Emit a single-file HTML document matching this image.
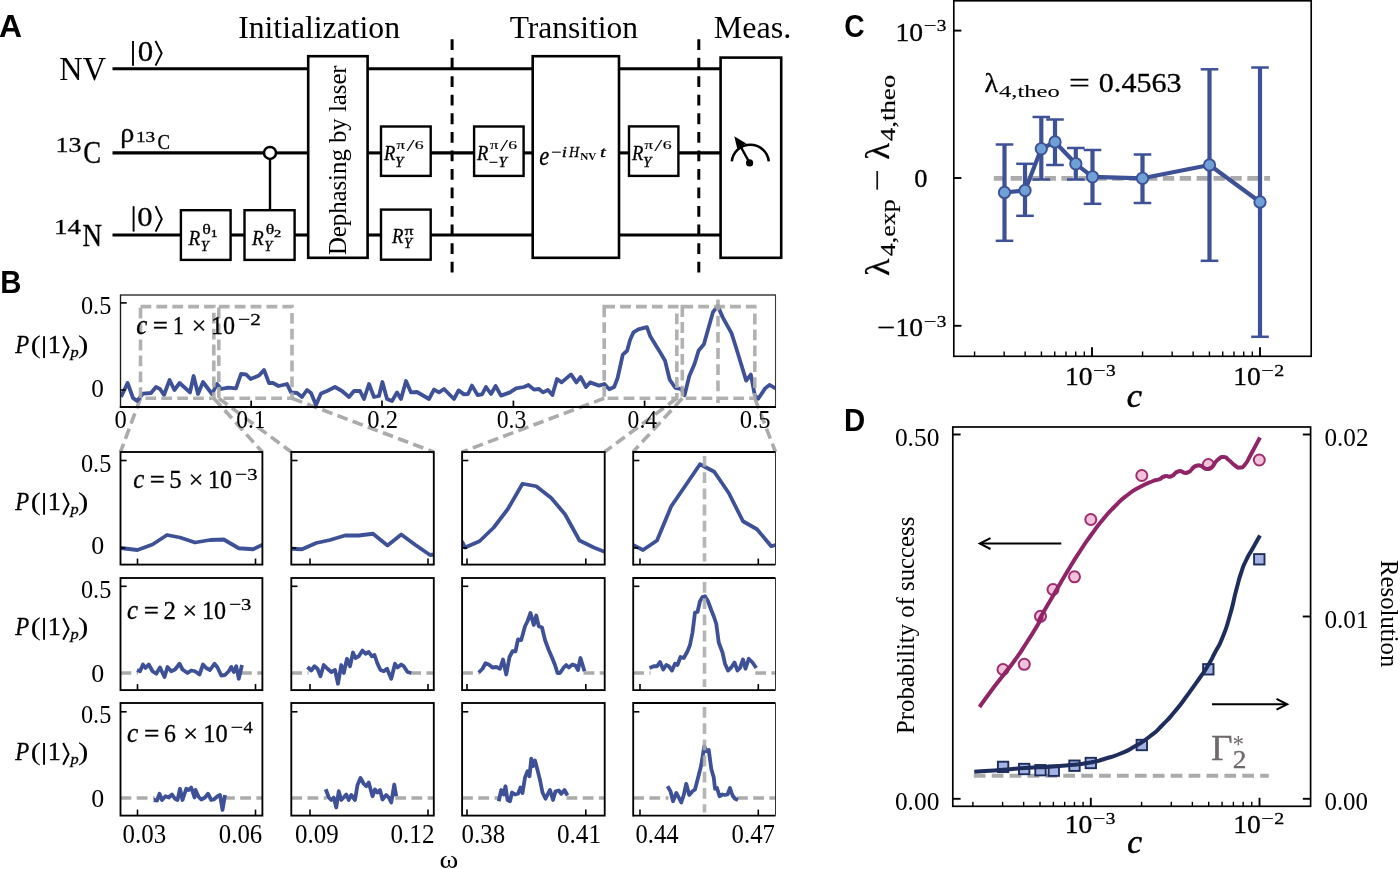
<!DOCTYPE html>
<html><head><meta charset="utf-8"><title>Figure</title>
<style>
html,body{margin:0;padding:0;background:#fff;}
body{width:1400px;height:869px;overflow:hidden;font-family:"Liberation Serif",serif;}
svg{display:block;will-change:transform;}
</style></head><body>
<svg width="1400" height="869" viewBox="0 0 1400 869">
<rect x="0" y="0" width="1400" height="869" fill="#fff"/>
<text font-family='"Liberation Sans", sans-serif' font-size="31" font-weight="bold" textLength="23.04" lengthAdjust="spacingAndGlyphs" x="-0.99" y="36.9">A</text>
<text font-family='"Liberation Sans", sans-serif' font-size="31" font-weight="bold" textLength="21.2" lengthAdjust="spacingAndGlyphs" x="0.14" y="292.6">B</text>
<text font-family='"Liberation Sans", sans-serif' font-size="31" font-weight="bold" textLength="20.32" lengthAdjust="spacingAndGlyphs" x="844.25" y="37.4">C</text>
<text font-family='"Liberation Sans", sans-serif' font-size="31" font-weight="bold" textLength="21.2" lengthAdjust="spacingAndGlyphs" x="844.04" y="430.6">D</text>
<text font-family='"Liberation Serif", serif' font-size="32.2" textLength="161.82" lengthAdjust="spacingAndGlyphs" x="238.16" y="38.4">Initialization</text>
<text font-family='"Liberation Serif", serif' font-size="32.2" textLength="128.44" lengthAdjust="spacingAndGlyphs" x="509.64" y="38.4">Transition</text>
<text font-family='"Liberation Serif", serif' font-size="32.2" textLength="77.64" lengthAdjust="spacingAndGlyphs" x="713.67" y="38.4">Meas.</text>
<text font-family='"Liberation Serif", serif' font-size="33" textLength="46.59" lengthAdjust="spacingAndGlyphs" x="59.37" y="79.9">NV</text>
<text font-family='"Liberation Serif", serif' font-size="22" textLength="26.0" lengthAdjust="spacingAndGlyphs" stroke="#000" stroke-width="0.3" x="55.61" y="152">13</text>
<text font-family='"Liberation Serif", serif' font-size="31.6" textLength="17.88" lengthAdjust="spacingAndGlyphs" stroke="#000" stroke-width="0.3" x="83.3" y="163.3">C</text>
<text font-family='"Liberation Serif", serif' font-size="22" textLength="26.88" lengthAdjust="spacingAndGlyphs" stroke="#000" stroke-width="0.3" x="54.14" y="233.9">14</text>
<text font-family='"Liberation Serif", serif' font-size="32" textLength="19.5" lengthAdjust="spacingAndGlyphs" stroke="#000" stroke-width="0.3" x="82.62" y="245.5">N</text>
<line x1="112.5" y1="68.8" x2="308" y2="68.8" stroke="#000" stroke-width="3.1"/>
<line x1="368" y1="68.8" x2="533" y2="68.8" stroke="#000" stroke-width="3.1"/>
<line x1="619" y1="68.8" x2="720" y2="68.8" stroke="#000" stroke-width="3.1"/>
<line x1="112.5" y1="152.9" x2="264" y2="152.9" stroke="#000" stroke-width="3.1"/>
<line x1="276" y1="152.9" x2="308" y2="152.9" stroke="#000" stroke-width="3.1"/>
<line x1="368" y1="152.9" x2="381" y2="152.9" stroke="#000" stroke-width="3.1"/>
<line x1="430.5" y1="152.9" x2="474" y2="152.9" stroke="#000" stroke-width="3.1"/>
<line x1="523.5" y1="152.9" x2="533" y2="152.9" stroke="#000" stroke-width="3.1"/>
<line x1="619" y1="152.9" x2="629" y2="152.9" stroke="#000" stroke-width="3.1"/>
<line x1="678.5" y1="152.9" x2="720" y2="152.9" stroke="#000" stroke-width="3.1"/>
<line x1="112.5" y1="235.0" x2="181" y2="235.0" stroke="#000" stroke-width="3.1"/>
<line x1="230.5" y1="235.0" x2="244.5" y2="235.0" stroke="#000" stroke-width="3.1"/>
<line x1="294.5" y1="235.0" x2="308" y2="235.0" stroke="#000" stroke-width="3.1"/>
<line x1="368" y1="235.0" x2="381" y2="235.0" stroke="#000" stroke-width="3.1"/>
<line x1="430.5" y1="235.0" x2="533" y2="235.0" stroke="#000" stroke-width="3.1"/>
<line x1="619" y1="235.0" x2="720" y2="235.0" stroke="#000" stroke-width="3.1"/>
<circle cx="270" cy="152.9" r="6.0" fill="#fff" stroke="#000" stroke-width="2.5"/>
<line x1="270" y1="159.4" x2="270" y2="210" stroke="#000" stroke-width="2.4"/>
<rect x="180.9" y="210.2" width="49.7" height="49.7" stroke="#000" stroke-width="2.4" fill="none"/>
<rect x="244.5" y="210.2" width="50.1" height="49.7" stroke="#000" stroke-width="2.4" fill="none"/>
<rect x="308.2" y="56.2" width="59.4" height="201.6" stroke="#000" stroke-width="2.6" fill="none"/>
<rect x="381" y="126.5" width="49.7" height="49.4" stroke="#000" stroke-width="2.4" fill="none"/>
<rect x="381" y="209.6" width="49.7" height="50.1" stroke="#000" stroke-width="2.4" fill="none"/>
<rect x="474.1" y="126.5" width="49.5" height="49.4" stroke="#000" stroke-width="2.4" fill="none"/>
<rect x="532.7" y="56.2" width="86.3" height="201.6" stroke="#000" stroke-width="2.6" fill="none"/>
<rect x="629" y="126.4" width="49.4" height="49.5" stroke="#000" stroke-width="2.4" fill="none"/>
<rect x="720.6" y="57.6" width="60.6" height="200.2" stroke="#000" stroke-width="2.6" fill="none"/>
<line x1="452.1" y1="39.2" x2="452.1" y2="272.6" stroke="#000" stroke-width="3.0" stroke-dasharray="10.8 7.74"/>
<line x1="698.8" y1="39.2" x2="698.8" y2="272.6" stroke="#000" stroke-width="3.0" stroke-dasharray="10.8 7.74"/>
<text font-family='"Liberation Serif", serif' font-size="25.8" textLength="189.73" lengthAdjust="spacingAndGlyphs" transform="translate(345.9,255.11) rotate(-90)">Dephasing by laser</text>
<line x1="133" y1="40.9" x2="133" y2="65.7" stroke="#000" stroke-width="1.9"/>
<text font-family='"Liberation Serif", serif' font-size="28.5" textLength="15.45" lengthAdjust="spacingAndGlyphs" stroke="#000" stroke-width="0.3" x="137.82" y="60.9">0</text>
<polyline points="155.5,40.9 161.7,53.3 155.5,65.7" fill="none" stroke="#000" stroke-width="1.9" stroke-linejoin="miter" stroke-linecap="butt"/>
<line x1="133.6" y1="206.2" x2="133.6" y2="231.6" stroke="#000" stroke-width="1.9"/>
<text font-family='"Liberation Serif", serif' font-size="28" textLength="15.34" lengthAdjust="spacingAndGlyphs" stroke="#000" stroke-width="0.3" x="137.23" y="225.9">0</text>
<polyline points="155.6,206.2 161.8,218.9 155.6,231.6" fill="none" stroke="#000" stroke-width="1.9" stroke-linejoin="miter" stroke-linecap="butt"/>
<text font-family='"Liberation Serif", serif' font-size="28" textLength="14.06" lengthAdjust="spacingAndGlyphs" stroke="#000" stroke-width="0.3" x="120.18" y="141.8">ρ</text>
<text font-family='"Liberation Serif", serif' font-size="14.4" textLength="19.24" lengthAdjust="spacingAndGlyphs" stroke="#000" stroke-width="0.3" x="136.01" y="141.8">13</text>
<text font-family='"Liberation Serif", serif' font-size="20.5" textLength="12.5" lengthAdjust="spacingAndGlyphs" stroke="#000" stroke-width="0.3" x="157.43" y="149">C</text>
<text font-family='"Liberation Serif", serif' font-size="21.2" font-style="italic" textLength="11.72" lengthAdjust="spacingAndGlyphs" stroke="#000" stroke-width="0.3" x="188.6" y="244.5">R</text>
<text font-family='"Liberation Serif", serif' font-size="14" font-style="italic" textLength="8.04" lengthAdjust="spacingAndGlyphs" stroke="#000" stroke-width="0.3" x="200.67" y="250.5">Y</text>
<text font-family='"Liberation Serif", serif' font-size="15.4" textLength="8.61" lengthAdjust="spacingAndGlyphs" stroke="#000" stroke-width="0.3" x="202.16" y="233.5">θ</text>
<text font-family='"Liberation Serif", serif' font-size="10.6" textLength="6.82" lengthAdjust="spacingAndGlyphs" stroke="#000" stroke-width="0.3" x="210.8" y="236.5">1</text>
<text font-family='"Liberation Serif", serif' font-size="21.2" font-style="italic" textLength="11.72" lengthAdjust="spacingAndGlyphs" stroke="#000" stroke-width="0.3" x="252.1" y="244.5">R</text>
<text font-family='"Liberation Serif", serif' font-size="14" font-style="italic" textLength="8.04" lengthAdjust="spacingAndGlyphs" stroke="#000" stroke-width="0.3" x="264.17" y="250.5">Y</text>
<text font-family='"Liberation Serif", serif' font-size="15.4" textLength="8.61" lengthAdjust="spacingAndGlyphs" stroke="#000" stroke-width="0.3" x="265.66" y="233.5">θ</text>
<text font-family='"Liberation Serif", serif' font-size="10.6" textLength="7.23" lengthAdjust="spacingAndGlyphs" stroke="#000" stroke-width="0.3" x="274.06" y="236.5">2</text>
<text font-family='"Liberation Serif", serif' font-size="21" font-style="italic" textLength="11.31" lengthAdjust="spacingAndGlyphs" stroke="#000" stroke-width="0.3" x="384.0" y="160">R</text>
<text font-family='"Liberation Serif", serif' font-size="14" font-style="italic" textLength="8.42" lengthAdjust="spacingAndGlyphs" stroke="#000" stroke-width="0.3" x="395.04" y="167.1">Y</text>
<text font-family='"Liberation Serif", serif' font-size="12.2" textLength="8.48" lengthAdjust="spacingAndGlyphs" stroke="#000" stroke-width="0.15" x="396.57" y="149.2">π</text>
<text font-family='"Liberation Serif", serif' font-size="17" textLength="8.2" lengthAdjust="spacingAndGlyphs" x="406.4" y="151.3">/</text>
<text font-family='"Liberation Serif", serif' font-size="11.8" textLength="8.89" lengthAdjust="spacingAndGlyphs" stroke="#000" stroke-width="0.15" x="414.84" y="149.2">6</text>
<text font-family='"Liberation Serif", serif' font-size="21" font-style="italic" textLength="11.31" lengthAdjust="spacingAndGlyphs" stroke="#000" stroke-width="0.3" x="477.1" y="160">R</text>
<text font-family='"Liberation Serif", serif' font-size="14" textLength="9.21" lengthAdjust="spacingAndGlyphs" stroke="#000" stroke-width="0.3" x="489.09" y="167.1">−</text>
<text font-family='"Liberation Serif", serif' font-size="14" font-style="italic" textLength="8.42" lengthAdjust="spacingAndGlyphs" stroke="#000" stroke-width="0.3" x="498.44" y="167.1">Y</text>
<text font-family='"Liberation Serif", serif' font-size="12.2" textLength="8.48" lengthAdjust="spacingAndGlyphs" stroke="#000" stroke-width="0.15" x="490.07" y="149.2">π</text>
<text font-family='"Liberation Serif", serif' font-size="17" textLength="8.2" lengthAdjust="spacingAndGlyphs" x="499.9" y="151.3">/</text>
<text font-family='"Liberation Serif", serif' font-size="11.8" textLength="8.89" lengthAdjust="spacingAndGlyphs" stroke="#000" stroke-width="0.15" x="508.34" y="149.2">6</text>
<text font-family='"Liberation Serif", serif' font-size="21" font-style="italic" textLength="11.31" lengthAdjust="spacingAndGlyphs" stroke="#000" stroke-width="0.3" x="631.9" y="160">R</text>
<text font-family='"Liberation Serif", serif' font-size="14" font-style="italic" textLength="8.42" lengthAdjust="spacingAndGlyphs" stroke="#000" stroke-width="0.3" x="642.94" y="167.1">Y</text>
<text font-family='"Liberation Serif", serif' font-size="12.2" textLength="8.48" lengthAdjust="spacingAndGlyphs" stroke="#000" stroke-width="0.15" x="644.47" y="149.2">π</text>
<text font-family='"Liberation Serif", serif' font-size="17" textLength="8.2" lengthAdjust="spacingAndGlyphs" x="654.3" y="151.3">/</text>
<text font-family='"Liberation Serif", serif' font-size="11.8" textLength="8.89" lengthAdjust="spacingAndGlyphs" stroke="#000" stroke-width="0.15" x="662.74" y="149.2">6</text>
<text font-family='"Liberation Serif", serif' font-size="21" font-style="italic" textLength="11.41" lengthAdjust="spacingAndGlyphs" stroke="#000" stroke-width="0.3" x="391.9" y="242.5">R</text>
<text font-family='"Liberation Serif", serif' font-size="14" font-style="italic" textLength="8.04" lengthAdjust="spacingAndGlyphs" stroke="#000" stroke-width="0.3" x="403.97" y="247.9">Y</text>
<text font-family='"Liberation Serif", serif' font-size="12.5" textLength="9.01" lengthAdjust="spacingAndGlyphs" stroke="#000" stroke-width="0.3" x="404.56" y="234.9">π</text>
<text font-family='"Liberation Serif", serif' font-size="26.5" font-style="italic" textLength="10.0" lengthAdjust="spacingAndGlyphs" stroke="#000" stroke-width="0.3" x="539.31" y="165.2">e</text>
<text font-family='"Liberation Serif", serif' font-size="15" textLength="10.3" lengthAdjust="spacingAndGlyphs" stroke="#000" stroke-width="0.3" x="550.99" y="157">−</text>
<text font-family='"Liberation Serif", serif' font-size="14.5" font-style="italic" textLength="5.21" lengthAdjust="spacingAndGlyphs" stroke="#000" stroke-width="0.3" x="561.76" y="157">i</text>
<text font-family='"Liberation Serif", serif' font-size="14" font-style="italic" textLength="10.12" lengthAdjust="spacingAndGlyphs" stroke="#000" stroke-width="0.3" x="569.05" y="157">H</text>
<text font-family='"Liberation Serif", serif' font-size="9.6" font-weight="bold" textLength="16.14" lengthAdjust="spacingAndGlyphs" x="580.19" y="160.4">NV</text>
<text font-family='"Liberation Serif", serif' font-size="14.5" font-style="italic" textLength="5.8" lengthAdjust="spacingAndGlyphs" stroke="#000" stroke-width="0.3" x="600.08" y="157">t</text>
<path d="M 731.8 161.4 A 18.6 18.6 0 0 1 768.8 161.4" fill="none" stroke="#000" stroke-width="2.5"/>
<circle cx="749.6" cy="162.9" r="3.6" fill="#000"/>
<line x1="749.6" y1="162.9" x2="740.5" y2="146.2" stroke="#000" stroke-width="2.4"/>
<polygon points="734.3,136.2 746.2,143.4 737.2,148.6" fill="#000"/>
<line x1="140.5" y1="398.3" x2="120.5" y2="452" stroke="#ababab" stroke-width="3.6" stroke-dasharray="10.8 5.4"/>
<line x1="213.8" y1="398.3" x2="262.4" y2="452" stroke="#ababab" stroke-width="3.6" stroke-dasharray="10.8 5.4"/>
<line x1="218.8" y1="398.3" x2="291.3" y2="452" stroke="#ababab" stroke-width="3.6" stroke-dasharray="10.8 5.4"/>
<line x1="292" y1="398.3" x2="433.8" y2="452" stroke="#ababab" stroke-width="3.6" stroke-dasharray="10.8 5.4"/>
<line x1="604.2" y1="398.3" x2="462" y2="452" stroke="#ababab" stroke-width="3.6" stroke-dasharray="10.8 5.4"/>
<line x1="676.8" y1="398.3" x2="604.5" y2="452" stroke="#ababab" stroke-width="3.6" stroke-dasharray="10.8 5.4"/>
<line x1="682.3" y1="398.3" x2="633" y2="452" stroke="#ababab" stroke-width="3.6" stroke-dasharray="10.8 5.4"/>
<line x1="754.8" y1="398.3" x2="775.5" y2="452" stroke="#ababab" stroke-width="3.6" stroke-dasharray="10.8 5.4"/>
<clipPath id="cpT"><rect x="120.5" y="294.7" width="655.0" height="112.10000000000002"/></clipPath>
<g clip-path="url(#cpT)">
<polyline points="121.0,397.0 127.6,383.0 133.0,398.0 137.0,401.0 143.0,393.6 151.0,393.0 156.0,387.0 160.0,389.0 164.0,395.0 169.6,380.0 174.4,390.0 179.6,383.0 190.0,392.4 193.6,376.0 198.0,394.0 203.0,382.0 212.0,394.0 217.0,384.0 221.0,389.0 228.0,387.6 236.0,388.4 241.0,374.0 246.0,374.4 250.6,379.0 259.0,375.6 264.0,370.0 269.0,383.0 273.0,383.0 278.6,386.0 287.0,384.0 291.0,392.4 297.0,393.0 302.0,397.0 307.0,390.0 311.0,393.0 316.0,405.0 321.0,393.6 327.0,391.0 335.0,387.0 342.0,391.0 349.0,397.0 354.0,391.0 360.0,391.0 364.0,399.0 369.0,384.0 374.0,397.0 379.0,396.0 382.4,382.0 387.0,399.0 392.0,401.0 397.0,392.4 401.0,399.0 406.0,381.0 411.0,392.4 417.0,392.0 429.0,399.0 434.0,389.6 439.0,392.4 444.0,389.0 454.0,399.0 458.6,390.4 464.0,394.4 468.0,394.0 472.0,385.6 477.6,395.0 482.0,394.4 486.0,387.0 491.0,394.0 495.6,386.0 501.0,395.6 510.0,392.4 516.0,388.4 524.0,387.0 528.4,385.0 534.0,389.6 539.0,389.0 543.0,392.4 548.0,390.0 552.4,395.0 557.0,379.0 561.6,382.4 571.0,374.4 576.4,382.4 580.6,377.0 586.0,387.0 590.0,382.4 599.0,385.6 604.4,384.0 609.33,389.22 614.16,386.98 617.61,378.0 622.79,354.71 627.1,350.74 630.03,340.04 633.48,332.28 638.32,329.34 646.94,327.1 650.39,336.59 659.02,350.39 665.06,360.75 669.72,379.73 675.41,388.01 681.45,389.22 684.56,395.26 689.22,376.28 694.4,364.2 698.71,350.39 703.89,344.35 712.86,312.43 717.69,305.88 722.87,317.61 731.5,333.14 736.67,349.53 746.16,380.59 750.82,374.55 754.79,395.26 758.24,398.71 765.14,388.36 769.46,384.91 775.5,388.36" fill="none" stroke="#3e5197" stroke-width="3.8" stroke-linejoin="round" stroke-linecap="butt"/>
</g>
<g opacity="0.92">
<rect x="140.5" y="306.6" width="73.30000000000001" height="91.7" stroke="#ababab" stroke-width="3.6" fill="none" stroke-dasharray="10.8 5.1"/>
<rect x="218.8" y="306.6" width="73.19999999999999" height="91.7" stroke="#ababab" stroke-width="3.6" fill="none" stroke-dasharray="10.8 5.1"/>
<rect x="604.2" y="306.6" width="72.59999999999991" height="91.7" stroke="#ababab" stroke-width="3.6" fill="none" stroke-dasharray="10.8 5.1"/>
<rect x="682.3" y="306.6" width="72.5" height="91.7" stroke="#ababab" stroke-width="3.6" fill="none" stroke-dasharray="10.8 5.1"/>
<line x1="718" y1="299.5" x2="718" y2="403" stroke="#ababab" stroke-width="3.6" stroke-dasharray="10.8 5.4"/>
</g>
<line x1="119.9" y1="295" x2="776.0" y2="295" stroke="#3a3a3a" stroke-width="1.3"/>
<line x1="775.5" y1="295" x2="775.5" y2="406.8" stroke="#3a3a3a" stroke-width="1.1"/>
<line x1="120.5" y1="295" x2="120.5" y2="407.7" stroke="#1a1a1a" stroke-width="1.35"/>
<line x1="119.8" y1="407" x2="776.0" y2="407" stroke="#000" stroke-width="1.9"/>
<line x1="120.5" y1="302.9" x2="126.7" y2="302.9" stroke="#000" stroke-width="1.6"/>
<line x1="120.5" y1="390" x2="125.5" y2="390" stroke="#000" stroke-width="1.5"/>
<line x1="251.2" y1="407" x2="251.2" y2="400.6" stroke="#000" stroke-width="1.7"/>
<line x1="382" y1="407" x2="382" y2="400.6" stroke="#000" stroke-width="1.7"/>
<line x1="513.4" y1="407" x2="513.4" y2="400.6" stroke="#000" stroke-width="1.7"/>
<line x1="644.6" y1="407" x2="644.6" y2="400.6" stroke="#000" stroke-width="1.7"/>
<text font-family='"Liberation Serif", serif' font-size="26" textLength="30.37" lengthAdjust="spacingAndGlyphs" x="80.97" y="313.9">0.5</text>
<text font-family='"Liberation Serif", serif' font-size="26" textLength="12.62" lengthAdjust="spacingAndGlyphs" x="91.34" y="396.8">0</text>
<text font-family='"Liberation Serif", serif' font-size="25.5" textLength="12.27" lengthAdjust="spacingAndGlyphs" x="114.47" y="427.8">0</text>
<text font-family='"Liberation Serif", serif' font-size="25.5" textLength="29.19" lengthAdjust="spacingAndGlyphs" x="236.31" y="427.8">0.1</text>
<text font-family='"Liberation Serif", serif' font-size="25.5" textLength="30.69" lengthAdjust="spacingAndGlyphs" x="367.26" y="427.8">0.2</text>
<text font-family='"Liberation Serif", serif' font-size="25.5" textLength="29.63" lengthAdjust="spacingAndGlyphs" x="496.7" y="427.8">0.3</text>
<text font-family='"Liberation Serif", serif' font-size="25.5" textLength="29.47" lengthAdjust="spacingAndGlyphs" x="627.6" y="427.8">0.4</text>
<text font-family='"Liberation Serif", serif' font-size="25.5" textLength="30.8" lengthAdjust="spacingAndGlyphs" x="739.86" y="427.8">0.5</text>
<text font-family='"Liberation Serif", serif' font-size="25" font-style="italic" textLength="13.96" lengthAdjust="spacingAndGlyphs" stroke="#000" stroke-width="0.3" x="15.22" y="353">P</text>
<text font-family='"Liberation Serif", serif' font-size="25" textLength="9.98" lengthAdjust="spacingAndGlyphs" stroke="#000" stroke-width="0.1" x="30.88" y="353">(</text>
<line x1="44.05" y1="336.25" x2="44.05" y2="358.1" stroke="#000" stroke-width="1.9"/>
<text font-family='"Liberation Serif", serif' font-size="24.8" textLength="13.21" lengthAdjust="spacingAndGlyphs" stroke="#000" stroke-width="0.3" x="47.88" y="353">1</text>
<polyline points="63.2,336.25 68.6,347.2 63.2,358.1" fill="none" stroke="#000" stroke-width="2.0" stroke-linejoin="miter" stroke-linecap="butt"/>
<text font-family='"Liberation Serif", serif' font-size="14.5" font-style="italic" textLength="8.14" lengthAdjust="spacingAndGlyphs" stroke="#000" stroke-width="0.3" x="70.45" y="357.1">p</text>
<text font-family='"Liberation Serif", serif' font-size="25" textLength="10.37" lengthAdjust="spacingAndGlyphs" stroke="#000" stroke-width="0.1" x="78.1" y="353">)</text>
<text font-family='"Liberation Serif", serif' font-size="28" font-style="italic" textLength="11.03" lengthAdjust="spacingAndGlyphs" stroke="#000" stroke-width="0.35" x="136.24" y="333.6">c</text>
<text font-family='"Liberation Serif", serif' font-size="25.5" textLength="15.15" lengthAdjust="spacingAndGlyphs" stroke="#000" stroke-width="0.3" x="152.86" y="333.6">=</text>
<text font-family='"Liberation Serif", serif' font-size="25.5" textLength="10.79" lengthAdjust="spacingAndGlyphs" stroke="#000" stroke-width="0.3" x="173.1" y="333.6">1</text>
<text font-family='"Liberation Serif", serif' font-size="25.5" textLength="14.56" lengthAdjust="spacingAndGlyphs" stroke="#000" stroke-width="0.3" x="191.66" y="333.6">×</text>
<text font-family='"Liberation Serif", serif' font-size="25.5" textLength="24.03" lengthAdjust="spacingAndGlyphs" stroke="#000" stroke-width="0.3" x="211.09" y="333.6">10</text>
<text font-family='"Liberation Serif", serif' font-size="17.5" textLength="12.12" lengthAdjust="spacingAndGlyphs" stroke="#000" stroke-width="0.3" x="238.13" y="325.1">−</text>
<text font-family='"Liberation Serif", serif' font-size="17.5" textLength="10.6" lengthAdjust="spacingAndGlyphs" stroke="#000" stroke-width="0.3" x="250.27" y="325.1">2</text>
<clipPath id="cp00"><rect x="120.5" y="452" width="141.89999999999998" height="112.60000000000002"/></clipPath>
<g clip-path="url(#cp00)">
<polyline points="120.5,548.0 137.5,550.0 152.5,544.5 167.0,535.0 180.0,537.5 195.0,542.5 210.0,540.0 223.75,539.5 238.75,548.25 253.0,549.25 263.0,544.5" fill="none" stroke="#3e5197" stroke-width="3.8" stroke-linejoin="round" stroke-linecap="butt"/>
</g>
<rect x="120.5" y="452" width="141.89999999999998" height="112.60000000000002" stroke="#000" stroke-width="1.85" fill="none"/>
<line x1="120.5" y1="460.5" x2="126.7" y2="460.5" stroke="#000" stroke-width="1.6"/>
<line x1="120.5" y1="548" x2="125.5" y2="548" stroke="#000" stroke-width="1.6"/>
<line x1="137.5" y1="564.6" x2="137.5" y2="558.6" stroke="#000" stroke-width="1.6"/>
<line x1="255.5" y1="564.6" x2="255.5" y2="558.6" stroke="#000" stroke-width="1.6"/>
<clipPath id="cp01"><rect x="291.3" y="452" width="142.5" height="112.60000000000002"/></clipPath>
<g clip-path="url(#cp01)">
<polyline points="291.25,548.75 302.0,549.25 316.25,543.0 330.0,540.0 345.0,535.5 358.75,535.5 373.0,533.75 387.5,545.5 401.25,534.5 415.5,545.0 430.0,555.0 433.75,554.5" fill="none" stroke="#3e5197" stroke-width="3.8" stroke-linejoin="round" stroke-linecap="butt"/>
</g>
<rect x="291.3" y="452" width="142.5" height="112.60000000000002" stroke="#000" stroke-width="1.85" fill="none"/>
<line x1="291.3" y1="460.5" x2="297.5" y2="460.5" stroke="#000" stroke-width="1.6"/>
<line x1="291.3" y1="548" x2="296.3" y2="548" stroke="#000" stroke-width="1.6"/>
<line x1="310" y1="564.6" x2="310" y2="558.6" stroke="#000" stroke-width="1.6"/>
<line x1="428" y1="564.6" x2="428" y2="558.6" stroke="#000" stroke-width="1.6"/>
<clipPath id="cp02"><rect x="462.1" y="452" width="142.60000000000002" height="112.60000000000002"/></clipPath>
<g clip-path="url(#cp02)">
<polyline points="462.0,541.25 465.0,547.5 479.5,541.25 493.75,527.5 508.0,508.75 522.5,483.75 536.25,486.25 551.25,498.0 565.0,514.25 579.5,540.5 593.75,547.5 604.5,551.75" fill="none" stroke="#3e5197" stroke-width="3.8" stroke-linejoin="round" stroke-linecap="butt"/>
</g>
<rect x="462.1" y="452" width="142.60000000000002" height="112.60000000000002" stroke="#000" stroke-width="1.85" fill="none"/>
<line x1="462.1" y1="460.5" x2="468.3" y2="460.5" stroke="#000" stroke-width="1.6"/>
<line x1="462.1" y1="548" x2="467.1" y2="548" stroke="#000" stroke-width="1.6"/>
<line x1="467" y1="564.6" x2="467" y2="558.6" stroke="#000" stroke-width="1.6"/>
<line x1="585.8" y1="564.6" x2="585.8" y2="558.6" stroke="#000" stroke-width="1.6"/>
<clipPath id="cp03"><rect x="633.2" y="452" width="142.29999999999995" height="112.60000000000002"/></clipPath>
<g clip-path="url(#cp03)">
<polyline points="633.0,545.0 643.0,550.0 657.0,540.5 671.25,506.25 685.0,486.25 700.0,464.25 714.25,471.75 728.75,493.0 743.0,521.25 757.0,529.25 771.25,546.25 775.5,545.0" fill="none" stroke="#3e5197" stroke-width="3.8" stroke-linejoin="round" stroke-linecap="butt"/>
<line x1="704.5" y1="456" x2="704.5" y2="561.6" stroke="#ababab" stroke-width="3.6" stroke-dasharray="10.8 5.4" opacity="0.88"/>
</g>
<line x1="633.2" y1="452" x2="775.5" y2="452" stroke="#000" stroke-width="1.85"/>
<line x1="633.2" y1="564.6" x2="775.5" y2="564.6" stroke="#000" stroke-width="1.85"/>
<line x1="633.2" y1="451.075" x2="633.2" y2="565.525" stroke="#000" stroke-width="1.85"/>
<line x1="775.5" y1="452" x2="775.5" y2="564.6" stroke="#333" stroke-width="1.0"/>
<line x1="633.2" y1="460.5" x2="639.4000000000001" y2="460.5" stroke="#000" stroke-width="1.6"/>
<line x1="633.2" y1="548" x2="638.2" y2="548" stroke="#000" stroke-width="1.6"/>
<line x1="640" y1="564.6" x2="640" y2="558.6" stroke="#000" stroke-width="1.6"/>
<line x1="758.3" y1="564.6" x2="758.3" y2="558.6" stroke="#000" stroke-width="1.6"/>
<text font-family='"Liberation Serif", serif' font-size="26" textLength="30.37" lengthAdjust="spacingAndGlyphs" x="80.97" y="471.7">0.5</text>
<text font-family='"Liberation Serif", serif' font-size="26" textLength="12.98" lengthAdjust="spacingAndGlyphs" x="91.31" y="554.3">0</text>
<clipPath id="cp10"><rect x="120.5" y="578" width="141.89999999999998" height="112.10000000000002"/></clipPath>
<g clip-path="url(#cp10)">
<line x1="120.5" y1="673" x2="138.0" y2="673" stroke="#ababab" stroke-width="3.6" stroke-dasharray="10.8 5.4"/>
<line x1="241.0" y1="673" x2="262.4" y2="673" stroke="#ababab" stroke-width="3.6" stroke-dasharray="10.8 5.4"/>
<polyline points="137.0,670.0 140.0,671.25 143.0,664.5 145.5,668.0 148.75,664.5 152.5,671.25 156.25,673.75 160.0,667.5 164.5,677.0 167.5,667.0 171.25,671.25 175.0,669.5 179.5,663.75 182.5,669.5 187.5,673.0 191.25,670.5 195.0,671.25 199.5,674.5 203.0,664.5 206.25,668.0 210.0,670.0 214.5,663.75 217.5,667.5 221.25,675.5 225.0,675.0 228.75,671.25 231.25,667.0 233.75,672.0 236.25,666.25 238.75,678.75 242.0,665.0" fill="none" stroke="#3e5197" stroke-width="3.8" stroke-linejoin="round" stroke-linecap="butt"/>
</g>
<rect x="120.5" y="578" width="141.89999999999998" height="112.10000000000002" stroke="#000" stroke-width="1.85" fill="none"/>
<line x1="120.5" y1="586.3" x2="126.7" y2="586.3" stroke="#000" stroke-width="1.6"/>
<line x1="137.5" y1="690.1" x2="137.5" y2="684.1" stroke="#000" stroke-width="1.6"/>
<line x1="255.5" y1="690.1" x2="255.5" y2="684.1" stroke="#000" stroke-width="1.6"/>
<clipPath id="cp11"><rect x="291.3" y="578" width="142.5" height="112.10000000000002"/></clipPath>
<g clip-path="url(#cp11)">
<line x1="291.3" y1="673" x2="308.5" y2="673" stroke="#ababab" stroke-width="3.6" stroke-dasharray="10.8 5.4"/>
<line x1="410.25" y1="673" x2="433.8" y2="673" stroke="#ababab" stroke-width="3.6" stroke-dasharray="10.8 5.4"/>
<polyline points="307.5,667.0 311.25,670.5 314.5,666.25 317.5,668.75 320.5,676.25 323.75,665.0 327.5,668.75 331.25,672.0 335.0,670.0 338.0,683.75 341.25,665.0 343.75,673.0 347.0,658.75 350.0,666.25 353.0,652.5 355.5,658.0 358.75,656.25 362.5,650.5 365.5,653.75 368.75,652.0 371.75,656.25 374.5,655.0 377.5,663.75 380.5,670.0 383.75,671.25 387.0,668.75 391.25,678.75 395.0,663.75 397.5,667.5 401.25,664.5 403.75,666.25 407.5,672.0 411.25,673.0" fill="none" stroke="#3e5197" stroke-width="3.8" stroke-linejoin="round" stroke-linecap="butt"/>
</g>
<rect x="291.3" y="578" width="142.5" height="112.10000000000002" stroke="#000" stroke-width="1.85" fill="none"/>
<line x1="291.3" y1="586.3" x2="297.5" y2="586.3" stroke="#000" stroke-width="1.6"/>
<line x1="310" y1="690.1" x2="310" y2="684.1" stroke="#000" stroke-width="1.6"/>
<line x1="428" y1="690.1" x2="428" y2="684.1" stroke="#000" stroke-width="1.6"/>
<clipPath id="cp12"><rect x="462.1" y="578" width="142.60000000000002" height="112.10000000000002"/></clipPath>
<g clip-path="url(#cp12)">
<line x1="462.1" y1="673" x2="479.75" y2="673" stroke="#ababab" stroke-width="3.6" stroke-dasharray="10.8 5.4"/>
<line x1="583.5" y1="673" x2="604.7" y2="673" stroke="#ababab" stroke-width="3.6" stroke-dasharray="10.8 5.4"/>
<polyline points="478.75,672.5 482.5,668.75 485.5,663.25 488.75,664.5 492.5,667.5 496.25,667.0 500.0,668.75 503.0,659.5 506.25,674.5 509.5,657.0 512.5,651.25 515.5,651.25 518.0,639.5 521.25,640.0 525.0,626.25 527.5,621.25 530.5,613.0 533.75,625.0 536.25,615.5 538.75,626.25 542.0,627.5 545.0,640.0 548.75,650.0 552.5,658.75 555.0,665.0 557.5,673.0 560.0,673.0 563.75,667.5 566.25,665.0 568.75,667.5 572.5,664.5 575.5,665.5 578.0,670.0 580.5,658.0 584.5,671.25" fill="none" stroke="#3e5197" stroke-width="3.8" stroke-linejoin="round" stroke-linecap="butt"/>
</g>
<rect x="462.1" y="578" width="142.60000000000002" height="112.10000000000002" stroke="#000" stroke-width="1.85" fill="none"/>
<line x1="462.1" y1="586.3" x2="468.3" y2="586.3" stroke="#000" stroke-width="1.6"/>
<line x1="467" y1="690.1" x2="467" y2="684.1" stroke="#000" stroke-width="1.6"/>
<line x1="585.8" y1="690.1" x2="585.8" y2="684.1" stroke="#000" stroke-width="1.6"/>
<clipPath id="cp13"><rect x="633.2" y="578" width="142.29999999999995" height="112.10000000000002"/></clipPath>
<g clip-path="url(#cp13)">
<line x1="633.2" y1="673" x2="650.5" y2="673" stroke="#ababab" stroke-width="3.6" stroke-dasharray="10.8 5.4"/>
<line x1="755.25" y1="673" x2="775.5" y2="673" stroke="#ababab" stroke-width="3.6" stroke-dasharray="10.8 5.4"/>
<polyline points="649.5,668.0 653.75,666.25 657.0,666.25 660.0,662.0 663.25,669.5 666.25,665.0 668.75,666.25 672.0,670.5 675.0,663.75 677.5,665.0 680.5,657.0 683.75,658.0 687.5,651.25 690.0,645.0 692.5,632.5 695.0,612.5 697.5,612.0 700.0,601.25 702.5,597.0 705.0,596.25 708.0,601.25 711.25,610.0 713.75,616.25 716.25,623.75 718.75,642.5 722.5,652.5 725.0,663.75 728.0,670.5 731.25,667.5 734.5,662.5 737.5,670.5 740.0,668.0 743.0,659.5 745.5,668.75 748.75,658.75 752.5,662.5 756.25,668.0" fill="none" stroke="#3e5197" stroke-width="3.8" stroke-linejoin="round" stroke-linecap="butt"/>
<line x1="704.5" y1="582" x2="704.5" y2="687.1" stroke="#ababab" stroke-width="3.6" stroke-dasharray="10.8 5.4" opacity="0.88"/>
</g>
<line x1="633.2" y1="578" x2="775.5" y2="578" stroke="#000" stroke-width="1.85"/>
<line x1="633.2" y1="690.1" x2="775.5" y2="690.1" stroke="#000" stroke-width="1.85"/>
<line x1="633.2" y1="577.075" x2="633.2" y2="691.025" stroke="#000" stroke-width="1.85"/>
<line x1="775.5" y1="578" x2="775.5" y2="690.1" stroke="#333" stroke-width="1.0"/>
<line x1="633.2" y1="586.3" x2="639.4000000000001" y2="586.3" stroke="#000" stroke-width="1.6"/>
<line x1="640" y1="690.1" x2="640" y2="684.1" stroke="#000" stroke-width="1.6"/>
<line x1="758.3" y1="690.1" x2="758.3" y2="684.1" stroke="#000" stroke-width="1.6"/>
<text font-family='"Liberation Serif", serif' font-size="26" textLength="30.37" lengthAdjust="spacingAndGlyphs" x="80.97" y="597.5">0.5</text>
<text font-family='"Liberation Serif", serif' font-size="26" textLength="12.98" lengthAdjust="spacingAndGlyphs" x="91.31" y="681.8">0</text>
<clipPath id="cp20"><rect x="120.5" y="703" width="141.89999999999998" height="112.60000000000002"/></clipPath>
<g clip-path="url(#cp20)">
<line x1="120.5" y1="798" x2="154.75" y2="798" stroke="#ababab" stroke-width="3.6" stroke-dasharray="10.8 5.4"/>
<line x1="224.0" y1="798" x2="262.4" y2="798" stroke="#ababab" stroke-width="3.6" stroke-dasharray="10.8 5.4"/>
<polyline points="153.75,800.0 157.0,800.5 159.5,793.75 162.0,800.0 165.5,796.25 168.75,797.5 172.0,794.5 175.0,798.75 177.5,800.0 180.0,788.75 182.5,800.0 186.25,788.75 188.75,790.0 191.25,787.5 194.5,797.5 195.5,790.0 198.75,797.0 201.25,799.5 205.0,797.5 208.0,793.75 211.25,800.0 213.75,799.5 217.5,796.25 220.0,795.0 222.5,810.0 225.0,795.0" fill="none" stroke="#3e5197" stroke-width="3.8" stroke-linejoin="round" stroke-linecap="butt"/>
</g>
<rect x="120.5" y="703" width="141.89999999999998" height="112.60000000000002" stroke="#000" stroke-width="1.85" fill="none"/>
<line x1="120.5" y1="711.8" x2="126.7" y2="711.8" stroke="#000" stroke-width="1.6"/>
<line x1="137.5" y1="815.6" x2="137.5" y2="809.6" stroke="#000" stroke-width="1.6"/>
<line x1="255.5" y1="815.6" x2="255.5" y2="809.6" stroke="#000" stroke-width="1.6"/>
<clipPath id="cp21"><rect x="291.3" y="703" width="142.5" height="112.60000000000002"/></clipPath>
<g clip-path="url(#cp21)">
<line x1="291.3" y1="798" x2="326.75" y2="798" stroke="#ababab" stroke-width="3.6" stroke-dasharray="10.8 5.4"/>
<line x1="395.25" y1="798" x2="433.8" y2="798" stroke="#ababab" stroke-width="3.6" stroke-dasharray="10.8 5.4"/>
<polyline points="325.75,789.25 328.75,797.5 331.25,800.0 333.75,797.5 336.25,807.5 338.75,791.25 341.25,800.0 343.75,797.5 346.25,794.5 348.75,800.0 351.25,795.0 355.0,800.0 357.5,785.0 360.5,778.0 363.75,783.75 366.25,786.25 368.75,782.5 372.5,796.25 375.0,789.5 377.5,792.5 380.0,790.0 382.5,799.5 386.25,795.0 388.75,797.5 391.25,802.5 394.25,784.5 396.25,796.25" fill="none" stroke="#3e5197" stroke-width="3.8" stroke-linejoin="round" stroke-linecap="butt"/>
</g>
<rect x="291.3" y="703" width="142.5" height="112.60000000000002" stroke="#000" stroke-width="1.85" fill="none"/>
<line x1="291.3" y1="711.8" x2="297.5" y2="711.8" stroke="#000" stroke-width="1.6"/>
<line x1="310" y1="815.6" x2="310" y2="809.6" stroke="#000" stroke-width="1.6"/>
<line x1="428" y1="815.6" x2="428" y2="809.6" stroke="#000" stroke-width="1.6"/>
<clipPath id="cp22"><rect x="462.1" y="703" width="142.60000000000002" height="112.60000000000002"/></clipPath>
<g clip-path="url(#cp22)">
<line x1="462.1" y1="798" x2="499.75" y2="798" stroke="#ababab" stroke-width="3.6" stroke-dasharray="10.8 5.4"/>
<line x1="566.5" y1="798" x2="604.7" y2="798" stroke="#ababab" stroke-width="3.6" stroke-dasharray="10.8 5.4"/>
<polyline points="498.75,801.25 501.25,790.0 503.75,794.5 505.5,786.25 507.5,800.0 510.0,801.25 512.0,792.5 515.0,794.5 518.0,793.75 520.5,787.5 522.5,793.0 525.0,777.5 527.5,771.25 529.5,776.25 531.25,758.75 533.0,766.25 535.0,760.5 537.5,770.0 540.0,780.0 542.5,792.5 545.5,798.75 548.0,793.75 550.0,790.0 553.0,800.0 555.5,791.25 558.75,790.5 561.25,793.75 564.5,790.0 567.5,795.5" fill="none" stroke="#3e5197" stroke-width="3.8" stroke-linejoin="round" stroke-linecap="butt"/>
</g>
<rect x="462.1" y="703" width="142.60000000000002" height="112.60000000000002" stroke="#000" stroke-width="1.85" fill="none"/>
<line x1="462.1" y1="711.8" x2="468.3" y2="711.8" stroke="#000" stroke-width="1.6"/>
<line x1="467" y1="815.6" x2="467" y2="809.6" stroke="#000" stroke-width="1.6"/>
<line x1="585.8" y1="815.6" x2="585.8" y2="809.6" stroke="#000" stroke-width="1.6"/>
<clipPath id="cp23"><rect x="633.2" y="703" width="142.29999999999995" height="112.60000000000002"/></clipPath>
<g clip-path="url(#cp23)">
<line x1="633.2" y1="798" x2="668.5" y2="798" stroke="#ababab" stroke-width="3.6" stroke-dasharray="10.8 5.4"/>
<line x1="737.0" y1="798" x2="775.5" y2="798" stroke="#ababab" stroke-width="3.6" stroke-dasharray="10.8 5.4"/>
<polyline points="667.5,786.25 670.5,791.25 673.0,801.25 676.25,793.0 678.75,797.5 681.25,802.5 683.75,795.0 686.25,783.75 689.25,795.0 692.5,791.25 695.0,789.5 698.75,775.0 701.25,765.0 704.25,746.25 706.25,751.25 708.75,750.0 711.25,768.75 713.75,777.5 715.0,788.75 717.0,788.0 719.5,796.25 722.5,794.5 725.0,795.0 727.5,794.5 730.0,788.0 732.5,795.5 735.0,798.75 738.0,800.0" fill="none" stroke="#3e5197" stroke-width="3.8" stroke-linejoin="round" stroke-linecap="butt"/>
<line x1="704.5" y1="707" x2="704.5" y2="812.6" stroke="#ababab" stroke-width="3.6" stroke-dasharray="10.8 5.4" opacity="0.88"/>
</g>
<line x1="633.2" y1="703" x2="775.5" y2="703" stroke="#000" stroke-width="1.85"/>
<line x1="633.2" y1="815.6" x2="775.5" y2="815.6" stroke="#000" stroke-width="1.85"/>
<line x1="633.2" y1="702.075" x2="633.2" y2="816.525" stroke="#000" stroke-width="1.85"/>
<line x1="775.5" y1="703" x2="775.5" y2="815.6" stroke="#333" stroke-width="1.0"/>
<line x1="633.2" y1="711.8" x2="639.4000000000001" y2="711.8" stroke="#000" stroke-width="1.6"/>
<line x1="640" y1="815.6" x2="640" y2="809.6" stroke="#000" stroke-width="1.6"/>
<line x1="758.3" y1="815.6" x2="758.3" y2="809.6" stroke="#000" stroke-width="1.6"/>
<text font-family='"Liberation Serif", serif' font-size="26" textLength="30.37" lengthAdjust="spacingAndGlyphs" x="80.97" y="723.0">0.5</text>
<text font-family='"Liberation Serif", serif' font-size="26" textLength="12.98" lengthAdjust="spacingAndGlyphs" x="91.31" y="806.6">0</text>
<text font-family='"Liberation Serif", serif' font-size="25" font-style="italic" textLength="13.96" lengthAdjust="spacingAndGlyphs" stroke="#000" stroke-width="0.3" x="15.22" y="509.7">P</text>
<text font-family='"Liberation Serif", serif' font-size="25" textLength="9.98" lengthAdjust="spacingAndGlyphs" stroke="#000" stroke-width="0.1" x="30.88" y="509.7">(</text>
<line x1="44.05" y1="492.95" x2="44.05" y2="514.8" stroke="#000" stroke-width="1.9"/>
<text font-family='"Liberation Serif", serif' font-size="24.8" textLength="13.21" lengthAdjust="spacingAndGlyphs" stroke="#000" stroke-width="0.3" x="47.88" y="509.7">1</text>
<polyline points="63.2,492.95 68.6,503.9 63.2,514.8" fill="none" stroke="#000" stroke-width="2.0" stroke-linejoin="miter" stroke-linecap="butt"/>
<text font-family='"Liberation Serif", serif' font-size="14.5" font-style="italic" textLength="8.14" lengthAdjust="spacingAndGlyphs" stroke="#000" stroke-width="0.3" x="70.45" y="513.8">p</text>
<text font-family='"Liberation Serif", serif' font-size="25" textLength="10.37" lengthAdjust="spacingAndGlyphs" stroke="#000" stroke-width="0.1" x="78.1" y="509.7">)</text>
<text font-family='"Liberation Serif", serif' font-size="25" font-style="italic" textLength="13.96" lengthAdjust="spacingAndGlyphs" stroke="#000" stroke-width="0.3" x="15.22" y="634.7">P</text>
<text font-family='"Liberation Serif", serif' font-size="25" textLength="9.98" lengthAdjust="spacingAndGlyphs" stroke="#000" stroke-width="0.1" x="30.88" y="634.7">(</text>
<line x1="44.05" y1="617.95" x2="44.05" y2="639.8000000000001" stroke="#000" stroke-width="1.9"/>
<text font-family='"Liberation Serif", serif' font-size="24.8" textLength="13.21" lengthAdjust="spacingAndGlyphs" stroke="#000" stroke-width="0.3" x="47.88" y="634.7">1</text>
<polyline points="63.2,617.95 68.6,628.9 63.2,639.8" fill="none" stroke="#000" stroke-width="2.0" stroke-linejoin="miter" stroke-linecap="butt"/>
<text font-family='"Liberation Serif", serif' font-size="14.5" font-style="italic" textLength="8.14" lengthAdjust="spacingAndGlyphs" stroke="#000" stroke-width="0.3" x="70.45" y="638.8000000000001">p</text>
<text font-family='"Liberation Serif", serif' font-size="25" textLength="10.37" lengthAdjust="spacingAndGlyphs" stroke="#000" stroke-width="0.1" x="78.1" y="634.7">)</text>
<text font-family='"Liberation Serif", serif' font-size="25" font-style="italic" textLength="13.96" lengthAdjust="spacingAndGlyphs" stroke="#000" stroke-width="0.3" x="15.22" y="759.7">P</text>
<text font-family='"Liberation Serif", serif' font-size="25" textLength="9.98" lengthAdjust="spacingAndGlyphs" stroke="#000" stroke-width="0.1" x="30.88" y="759.7">(</text>
<line x1="44.05" y1="742.95" x2="44.05" y2="764.8000000000001" stroke="#000" stroke-width="1.9"/>
<text font-family='"Liberation Serif", serif' font-size="24.8" textLength="13.21" lengthAdjust="spacingAndGlyphs" stroke="#000" stroke-width="0.3" x="47.88" y="759.7">1</text>
<polyline points="63.2,742.95 68.6,753.9 63.2,764.8" fill="none" stroke="#000" stroke-width="2.0" stroke-linejoin="miter" stroke-linecap="butt"/>
<text font-family='"Liberation Serif", serif' font-size="14.5" font-style="italic" textLength="8.14" lengthAdjust="spacingAndGlyphs" stroke="#000" stroke-width="0.3" x="70.45" y="763.8000000000001">p</text>
<text font-family='"Liberation Serif", serif' font-size="25" textLength="10.37" lengthAdjust="spacingAndGlyphs" stroke="#000" stroke-width="0.1" x="78.1" y="759.7">)</text>
<text font-family='"Liberation Serif", serif' font-size="28" font-style="italic" textLength="11.03" lengthAdjust="spacingAndGlyphs" stroke="#000" stroke-width="0.35" x="133.24" y="488.1">c</text>
<text font-family='"Liberation Serif", serif' font-size="25.5" textLength="15.15" lengthAdjust="spacingAndGlyphs" stroke="#000" stroke-width="0.3" x="149.86" y="488.1">=</text>
<text font-family='"Liberation Serif", serif' font-size="25.5" textLength="12.41" lengthAdjust="spacingAndGlyphs" stroke="#000" stroke-width="0.3" x="169.26" y="488.1">5</text>
<text font-family='"Liberation Serif", serif' font-size="25.5" textLength="14.56" lengthAdjust="spacingAndGlyphs" stroke="#000" stroke-width="0.3" x="188.66" y="488.1">×</text>
<text font-family='"Liberation Serif", serif' font-size="25.5" textLength="24.03" lengthAdjust="spacingAndGlyphs" stroke="#000" stroke-width="0.3" x="208.09" y="488.1">10</text>
<text font-family='"Liberation Serif", serif' font-size="17.5" textLength="12.12" lengthAdjust="spacingAndGlyphs" stroke="#000" stroke-width="0.3" x="235.13" y="479.6">−</text>
<text font-family='"Liberation Serif", serif' font-size="17.5" textLength="10.29" lengthAdjust="spacingAndGlyphs" stroke="#000" stroke-width="0.3" x="247.22" y="479.6">3</text>
<text font-family='"Liberation Serif", serif' font-size="28" font-style="italic" textLength="11.03" lengthAdjust="spacingAndGlyphs" stroke="#000" stroke-width="0.35" x="127.04" y="618.5">c</text>
<text font-family='"Liberation Serif", serif' font-size="25.5" textLength="15.15" lengthAdjust="spacingAndGlyphs" stroke="#000" stroke-width="0.3" x="143.66" y="618.5">=</text>
<text font-family='"Liberation Serif", serif' font-size="25.5" textLength="12.47" lengthAdjust="spacingAndGlyphs" stroke="#000" stroke-width="0.3" x="163.4" y="618.5">2</text>
<text font-family='"Liberation Serif", serif' font-size="25.5" textLength="14.56" lengthAdjust="spacingAndGlyphs" stroke="#000" stroke-width="0.3" x="182.46" y="618.5">×</text>
<text font-family='"Liberation Serif", serif' font-size="25.5" textLength="24.03" lengthAdjust="spacingAndGlyphs" stroke="#000" stroke-width="0.3" x="201.89" y="618.5">10</text>
<text font-family='"Liberation Serif", serif' font-size="17.5" textLength="12.12" lengthAdjust="spacingAndGlyphs" stroke="#000" stroke-width="0.3" x="228.93" y="610.0">−</text>
<text font-family='"Liberation Serif", serif' font-size="17.5" textLength="10.29" lengthAdjust="spacingAndGlyphs" stroke="#000" stroke-width="0.3" x="241.02" y="610.0">3</text>
<text font-family='"Liberation Serif", serif' font-size="28" font-style="italic" textLength="11.22" lengthAdjust="spacingAndGlyphs" stroke="#000" stroke-width="0.35" x="127.02" y="741.6">c</text>
<text font-family='"Liberation Serif", serif' font-size="25.5" textLength="15.41" lengthAdjust="spacingAndGlyphs" stroke="#000" stroke-width="0.3" x="143.93" y="741.6">=</text>
<text font-family='"Liberation Serif", serif' font-size="25.5" textLength="11.9" lengthAdjust="spacingAndGlyphs" stroke="#000" stroke-width="0.3" x="164.11" y="741.6">6</text>
<text font-family='"Liberation Serif", serif' font-size="25.5" textLength="14.81" lengthAdjust="spacingAndGlyphs" stroke="#000" stroke-width="0.3" x="183.39" y="741.6">×</text>
<text font-family='"Liberation Serif", serif' font-size="25.5" textLength="24.44" lengthAdjust="spacingAndGlyphs" stroke="#000" stroke-width="0.3" x="203.16" y="741.6">10</text>
<text font-family='"Liberation Serif", serif' font-size="17.5" textLength="12.33" lengthAdjust="spacingAndGlyphs" stroke="#000" stroke-width="0.3" x="230.66" y="733.1">−</text>
<text font-family='"Liberation Serif", serif' font-size="17.5" textLength="9.3" lengthAdjust="spacingAndGlyphs" stroke="#000" stroke-width="0.3" x="243.59" y="733.1">4</text>
<text font-family='"Liberation Serif", serif' font-size="26.8" textLength="43.62" lengthAdjust="spacingAndGlyphs" x="122.55" y="842.8">0.03</text>
<text font-family='"Liberation Serif", serif' font-size="26.8" textLength="43.38" lengthAdjust="spacingAndGlyphs" x="218.86" y="842.8">0.06</text>
<text font-family='"Liberation Serif", serif' font-size="26.8" textLength="43.67" lengthAdjust="spacingAndGlyphs" x="295.05" y="842.8">0.09</text>
<text font-family='"Liberation Serif", serif' font-size="26.8" textLength="44.05" lengthAdjust="spacingAndGlyphs" x="390.44" y="842.8">0.12</text>
<text font-family='"Liberation Serif", serif' font-size="26.8" textLength="43.6" lengthAdjust="spacingAndGlyphs" x="461.55" y="842.8">0.38</text>
<text font-family='"Liberation Serif", serif' font-size="26.8" textLength="44.18" lengthAdjust="spacingAndGlyphs" x="556.94" y="842.8">0.41</text>
<text font-family='"Liberation Serif", serif' font-size="26.8" textLength="43.02" lengthAdjust="spacingAndGlyphs" x="635.46" y="842.8">0.44</text>
<text font-family='"Liberation Serif", serif' font-size="26.8" textLength="43.36" lengthAdjust="spacingAndGlyphs" x="731.56" y="842.8">0.47</text>
<text font-family='"Liberation Serif", serif' font-size="25" textLength="18.84" lengthAdjust="spacingAndGlyphs" x="439.48" y="868">ω</text>
<line x1="993.8" y1="178.4" x2="1270" y2="178.4" stroke="#ababab" stroke-width="4.6" stroke-dasharray="11.4 5.5"/>
<line x1="1004.5" y1="144.5" x2="1004.5" y2="240.8" stroke="#3e5197" stroke-width="4.2"/>
<line x1="995.7" y1="144.5" x2="1013.3" y2="144.5" stroke="#3e5197" stroke-width="2.5"/>
<line x1="995.7" y1="240.8" x2="1013.3" y2="240.8" stroke="#3e5197" stroke-width="2.5"/>
<line x1="1025" y1="163.8" x2="1025" y2="215.8" stroke="#3e5197" stroke-width="4.2"/>
<line x1="1016.2" y1="163.8" x2="1033.8" y2="163.8" stroke="#3e5197" stroke-width="2.5"/>
<line x1="1016.2" y1="215.8" x2="1033.8" y2="215.8" stroke="#3e5197" stroke-width="2.5"/>
<line x1="1041.3" y1="117" x2="1041.3" y2="179.5" stroke="#3e5197" stroke-width="4.2"/>
<line x1="1032.5" y1="117" x2="1050.1" y2="117" stroke="#3e5197" stroke-width="2.5"/>
<line x1="1032.5" y1="179.5" x2="1050.1" y2="179.5" stroke="#3e5197" stroke-width="2.5"/>
<line x1="1055" y1="119.5" x2="1055" y2="165" stroke="#3e5197" stroke-width="4.2"/>
<line x1="1046.2" y1="119.5" x2="1063.8" y2="119.5" stroke="#3e5197" stroke-width="2.5"/>
<line x1="1046.2" y1="165" x2="1063.8" y2="165" stroke="#3e5197" stroke-width="2.5"/>
<line x1="1075.8" y1="148" x2="1075.8" y2="179.5" stroke="#3e5197" stroke-width="4.2"/>
<line x1="1067.0" y1="148" x2="1084.6" y2="148" stroke="#3e5197" stroke-width="2.5"/>
<line x1="1067.0" y1="179.5" x2="1084.6" y2="179.5" stroke="#3e5197" stroke-width="2.5"/>
<line x1="1092.5" y1="150" x2="1092.5" y2="203.8" stroke="#3e5197" stroke-width="4.2"/>
<line x1="1083.7" y1="150" x2="1101.3" y2="150" stroke="#3e5197" stroke-width="2.5"/>
<line x1="1083.7" y1="203.8" x2="1101.3" y2="203.8" stroke="#3e5197" stroke-width="2.5"/>
<line x1="1142.5" y1="154.5" x2="1142.5" y2="203" stroke="#3e5197" stroke-width="4.2"/>
<line x1="1133.7" y1="154.5" x2="1151.3" y2="154.5" stroke="#3e5197" stroke-width="2.5"/>
<line x1="1133.7" y1="203" x2="1151.3" y2="203" stroke="#3e5197" stroke-width="2.5"/>
<line x1="1209.5" y1="69.3" x2="1209.5" y2="260.8" stroke="#3e5197" stroke-width="4.2"/>
<line x1="1200.7" y1="69.3" x2="1218.3" y2="69.3" stroke="#3e5197" stroke-width="2.5"/>
<line x1="1200.7" y1="260.8" x2="1218.3" y2="260.8" stroke="#3e5197" stroke-width="2.5"/>
<line x1="1260" y1="67.5" x2="1260" y2="336.8" stroke="#3e5197" stroke-width="4.2"/>
<line x1="1251.2" y1="67.5" x2="1268.8" y2="67.5" stroke="#3e5197" stroke-width="2.5"/>
<line x1="1251.2" y1="336.8" x2="1268.8" y2="336.8" stroke="#3e5197" stroke-width="2.5"/>
<polyline points="1004.5,192.5 1025,190.5 1041.3,148.8 1055,142 1075.8,163.8 1092.5,176.8 1142.5,178.3 1209.5,165 1260,202" fill="none" stroke="#3e5197" stroke-width="4.2" stroke-linejoin="round" stroke-linecap="butt"/>
<circle cx="1004.5" cy="192.5" r="5.7" fill="#6fa0d6" stroke="#3e5197" stroke-width="1.9"/>
<circle cx="1025" cy="190.5" r="5.7" fill="#6fa0d6" stroke="#3e5197" stroke-width="1.9"/>
<circle cx="1041.3" cy="148.8" r="5.7" fill="#6fa0d6" stroke="#3e5197" stroke-width="1.9"/>
<circle cx="1055" cy="142" r="5.7" fill="#6fa0d6" stroke="#3e5197" stroke-width="1.9"/>
<circle cx="1075.8" cy="163.8" r="5.7" fill="#6fa0d6" stroke="#3e5197" stroke-width="1.9"/>
<circle cx="1092.5" cy="176.8" r="5.7" fill="#6fa0d6" stroke="#3e5197" stroke-width="1.9"/>
<circle cx="1142.5" cy="178.3" r="5.7" fill="#6fa0d6" stroke="#3e5197" stroke-width="1.9"/>
<circle cx="1209.5" cy="165" r="5.7" fill="#6fa0d6" stroke="#3e5197" stroke-width="1.9"/>
<circle cx="1260" cy="202" r="5.7" fill="#6fa0d6" stroke="#3e5197" stroke-width="1.9"/>
<rect x="953.8" y="0.8" width="357.4000000000001" height="355.5" stroke="#000" stroke-width="1.65" fill="none"/>
<line x1="953.8" y1="30.6" x2="961.4" y2="30.6" stroke="#000" stroke-width="1.9"/>
<line x1="953.8" y1="178" x2="961.4" y2="178" stroke="#000" stroke-width="1.9"/>
<line x1="953.8" y1="325.8" x2="961.4" y2="325.8" stroke="#000" stroke-width="1.9"/>
<line x1="974.5730392715489" y1="356.3" x2="974.5730392715489" y2="351.5" stroke="#000" stroke-width="1.4"/>
<line x1="1004.1563707929033" y1="356.3" x2="1004.1563707929033" y2="351.5" stroke="#000" stroke-width="1.4"/>
<line x1="1025.1460785430977" y1="356.3" x2="1025.1460785430977" y2="351.5" stroke="#000" stroke-width="1.4"/>
<line x1="1041.4269607284511" y1="356.3" x2="1041.4269607284511" y2="351.5" stroke="#000" stroke-width="1.4"/>
<line x1="1054.7294100644522" y1="356.3" x2="1054.7294100644522" y2="351.5" stroke="#000" stroke-width="1.4"/>
<line x1="1065.976470722395" y1="356.3" x2="1065.976470722395" y2="351.5" stroke="#000" stroke-width="1.4"/>
<line x1="1075.7191178146466" y1="356.3" x2="1075.7191178146466" y2="351.5" stroke="#000" stroke-width="1.4"/>
<line x1="1084.3127415858066" y1="356.3" x2="1084.3127415858066" y2="351.5" stroke="#000" stroke-width="1.4"/>
<line x1="1142.5730392715489" y1="356.3" x2="1142.5730392715489" y2="351.5" stroke="#000" stroke-width="1.4"/>
<line x1="1172.1563707929033" y1="356.3" x2="1172.1563707929033" y2="351.5" stroke="#000" stroke-width="1.4"/>
<line x1="1193.1460785430977" y1="356.3" x2="1193.1460785430977" y2="351.5" stroke="#000" stroke-width="1.4"/>
<line x1="1209.4269607284511" y1="356.3" x2="1209.4269607284511" y2="351.5" stroke="#000" stroke-width="1.4"/>
<line x1="1222.7294100644522" y1="356.3" x2="1222.7294100644522" y2="351.5" stroke="#000" stroke-width="1.4"/>
<line x1="1233.976470722395" y1="356.3" x2="1233.976470722395" y2="351.5" stroke="#000" stroke-width="1.4"/>
<line x1="1243.7191178146466" y1="356.3" x2="1243.7191178146466" y2="351.5" stroke="#000" stroke-width="1.4"/>
<line x1="1252.3127415858066" y1="356.3" x2="1252.3127415858066" y2="351.5" stroke="#000" stroke-width="1.4"/>
<line x1="1092" y1="356.3" x2="1092" y2="347.3" stroke="#000" stroke-width="1.9"/>
<line x1="1260" y1="356.3" x2="1260" y2="347.3" stroke="#000" stroke-width="1.9"/>
<text font-family='"Liberation Serif", serif' font-size="25.7" textLength="27.57" lengthAdjust="spacingAndGlyphs" stroke="#000" stroke-width="0.3" x="895.58" y="40.8">10</text>
<text font-family='"Liberation Serif", serif' font-size="16.7" textLength="12.48" lengthAdjust="spacingAndGlyphs" stroke="#000" stroke-width="0.3" x="923.7" y="31.4">−</text>
<text font-family='"Liberation Serif", serif' font-size="16.7" textLength="9.68" lengthAdjust="spacingAndGlyphs" stroke="#000" stroke-width="0.3" x="936.67" y="31.4">3</text>
<text font-family='"Liberation Serif", serif' font-size="25" textLength="13.21" lengthAdjust="spacingAndGlyphs" stroke="#000" stroke-width="0.3" x="914.39" y="187">0</text>
<text font-family='"Liberation Serif", serif' font-size="25.7" textLength="18.3" lengthAdjust="spacingAndGlyphs" stroke="#000" stroke-width="0.3" x="877.38" y="336">−</text>
<text font-family='"Liberation Serif", serif' font-size="25.7" textLength="27.57" lengthAdjust="spacingAndGlyphs" stroke="#000" stroke-width="0.3" x="895.58" y="336">10</text>
<text font-family='"Liberation Serif", serif' font-size="16.7" textLength="12.48" lengthAdjust="spacingAndGlyphs" stroke="#000" stroke-width="0.3" x="923.7" y="326.6">−</text>
<text font-family='"Liberation Serif", serif' font-size="16.7" textLength="9.68" lengthAdjust="spacingAndGlyphs" stroke="#000" stroke-width="0.3" x="936.67" y="326.6">3</text>
<text font-family='"Liberation Serif", serif' font-size="25.7" textLength="27.57" lengthAdjust="spacingAndGlyphs" stroke="#000" stroke-width="0.3" x="1064.98" y="385.4">10</text>
<text font-family='"Liberation Serif", serif' font-size="16.7" textLength="12.48" lengthAdjust="spacingAndGlyphs" stroke="#000" stroke-width="0.3" x="1093.1" y="376.0">−</text>
<text font-family='"Liberation Serif", serif' font-size="16.7" textLength="9.68" lengthAdjust="spacingAndGlyphs" stroke="#000" stroke-width="0.3" x="1106.07" y="376.0">3</text>
<text font-family='"Liberation Serif", serif' font-size="25.7" textLength="27.57" lengthAdjust="spacingAndGlyphs" stroke="#000" stroke-width="0.3" x="1233.18" y="385.4">10</text>
<text font-family='"Liberation Serif", serif' font-size="16.7" textLength="12.48" lengthAdjust="spacingAndGlyphs" stroke="#000" stroke-width="0.3" x="1261.3" y="376.0">−</text>
<text font-family='"Liberation Serif", serif' font-size="16.7" textLength="9.98" lengthAdjust="spacingAndGlyphs" stroke="#000" stroke-width="0.3" x="1274.32" y="376.0">2</text>
<text font-family='"Liberation Serif", serif' font-size="34.5" font-style="italic" textLength="15.22" lengthAdjust="spacingAndGlyphs" stroke="#000" stroke-width="0.6" x="1126.74" y="406.8">c</text>
<text font-family='"Liberation Serif", serif' font-size="28" textLength="13.64" lengthAdjust="spacingAndGlyphs" stroke="#000" stroke-width="0.3" x="984.51" y="91.5">λ</text>
<text font-family='"Liberation Serif", serif' font-size="17.5" textLength="60.66" lengthAdjust="spacingAndGlyphs" stroke="#000" stroke-width="0.1" x="999.02" y="96.75">4,theo</text>
<text font-family='"Liberation Serif", serif' font-size="27" textLength="20.91" lengthAdjust="spacingAndGlyphs" stroke="#000" stroke-width="0.3" x="1068.9" y="91.5">=</text>
<text font-family='"Liberation Serif", serif' font-size="27" textLength="82.57" lengthAdjust="spacingAndGlyphs" stroke="#000" stroke-width="0.3" x="1098.86" y="91.5">0.4563</text>
<text font-family='"Liberation Serif", serif' font-size="33" textLength="17.33" lengthAdjust="spacingAndGlyphs" stroke="#000" stroke-width="0.3" transform="translate(889.2,275.94) rotate(-90)">λ</text>
<text font-family='"Liberation Serif", serif' font-size="21" textLength="56.92" lengthAdjust="spacingAndGlyphs" stroke="#000" stroke-width="0.15" transform="translate(895.2,256.31) rotate(-90)">4,exp</text>
<text font-family='"Liberation Serif", serif' font-size="27" textLength="21.82" lengthAdjust="spacingAndGlyphs" stroke="#000" stroke-width="0.3" transform="translate(886.1,191.13) rotate(-90)">−</text>
<text font-family='"Liberation Serif", serif' font-size="33" textLength="16.8" lengthAdjust="spacingAndGlyphs" stroke="#000" stroke-width="0.3" transform="translate(889.2,159.71) rotate(-90)">λ</text>
<text font-family='"Liberation Serif", serif' font-size="21" textLength="66.65" lengthAdjust="spacingAndGlyphs" stroke="#000" stroke-width="0.15" transform="translate(895.2,141.33) rotate(-90)">4,theo</text>
<line x1="973.8" y1="775.8" x2="1268.8" y2="775.8" stroke="#ababab" stroke-width="3.9" stroke-dasharray="11.7 6.2"/>
<circle cx="1003" cy="669.5" r="5.5" fill="#f2c2dd" stroke="#a02d6f" stroke-width="2.0"/>
<circle cx="1024.3" cy="664.3" r="5.5" fill="#f2c2dd" stroke="#a02d6f" stroke-width="2.0"/>
<circle cx="1040.5" cy="616.3" r="5.5" fill="#f2c2dd" stroke="#a02d6f" stroke-width="2.0"/>
<circle cx="1053" cy="589.5" r="5.5" fill="#f2c2dd" stroke="#a02d6f" stroke-width="2.0"/>
<circle cx="1074.5" cy="576.8" r="5.5" fill="#f2c2dd" stroke="#a02d6f" stroke-width="2.0"/>
<circle cx="1090.8" cy="519.5" r="5.5" fill="#f2c2dd" stroke="#a02d6f" stroke-width="2.0"/>
<circle cx="1141.8" cy="475.5" r="5.5" fill="#f2c2dd" stroke="#a02d6f" stroke-width="2.0"/>
<circle cx="1208.3" cy="464.5" r="5.5" fill="#f2c2dd" stroke="#a02d6f" stroke-width="2.0"/>
<circle cx="1259.3" cy="460" r="5.5" fill="#f2c2dd" stroke="#a02d6f" stroke-width="2.0"/>
<rect x="997.9" y="761.6999999999999" width="10.4" height="10.4" fill="#a3b3e4" stroke="#1f2d5c" stroke-width="1.9"/>
<rect x="1019.0" y="763.8" width="10.4" height="10.4" fill="#a3b3e4" stroke="#1f2d5c" stroke-width="1.9"/>
<rect x="1035.3" y="765.0" width="10.4" height="10.4" fill="#a3b3e4" stroke="#1f2d5c" stroke-width="1.9"/>
<rect x="1048.6" y="765.5" width="10.4" height="10.4" fill="#a3b3e4" stroke="#1f2d5c" stroke-width="1.9"/>
<rect x="1069.3" y="760.5" width="10.4" height="10.4" fill="#a3b3e4" stroke="#1f2d5c" stroke-width="1.9"/>
<rect x="1085.6" y="757.8" width="10.4" height="10.4" fill="#a3b3e4" stroke="#1f2d5c" stroke-width="1.9"/>
<rect x="1136.6" y="739.8" width="10.4" height="10.4" fill="#a3b3e4" stroke="#1f2d5c" stroke-width="1.9"/>
<rect x="1203.1" y="664.0999999999999" width="10.4" height="10.4" fill="#a3b3e4" stroke="#1f2d5c" stroke-width="1.9"/>
<rect x="1254.1" y="554.0999999999999" width="10.4" height="10.4" fill="#a3b3e4" stroke="#1f2d5c" stroke-width="1.9"/>
<path d="M 979.50 707.00 C 983.00 702.17 982.17 703.00 990.00 692.50 C 997.83 682.00 994.67 686.33 1003.00 675.50 C 1011.33 664.67 1006.83 671.42 1015.00 660.00 C 1023.17 648.58 1019.00 654.58 1027.50 641.25 C 1036.00 627.92 1036.17 627.92 1040.50 620.00 C 1044.83 612.08 1035.67 626.67 1040.50 617.50 C 1045.33 608.33 1046.00 607.92 1055.00 592.50 C 1064.00 577.08 1059.17 585.00 1067.50 571.25 C 1075.83 557.50 1072.25 563.17 1080.00 551.25 C 1087.75 539.33 1083.25 545.92 1090.75 535.50 C 1098.25 525.08 1094.42 529.75 1102.50 520.00 C 1110.58 510.25 1106.67 514.58 1115.00 506.25 C 1123.33 497.92 1119.17 501.42 1127.50 495.00 C 1135.83 488.58 1131.67 491.58 1140.00 487.00 C 1148.33 482.42 1146.25 483.75 1152.50 481.25 C 1158.75 478.75 1154.58 481.17 1158.75 479.50 C 1162.92 477.83 1160.83 477.33 1165.00 476.25 C 1169.17 475.17 1166.67 477.92 1171.25 476.25 C 1175.83 474.58 1173.33 472.50 1178.75 471.25 C 1184.17 470.00 1181.25 474.42 1187.50 472.50 C 1193.75 470.58 1190.42 466.75 1197.50 465.50 C 1204.58 464.25 1202.08 470.58 1208.75 468.75 C 1215.42 466.92 1212.50 463.92 1217.50 460.00 C 1222.50 456.08 1220.00 457.00 1223.75 457.00 C 1227.50 457.00 1225.00 457.17 1228.75 460.00 C 1232.50 462.83 1231.25 463.00 1235.00 465.50 C 1238.75 468.00 1236.67 467.83 1240.00 467.50 C 1243.33 467.17 1241.25 469.08 1245.00 464.50 C 1248.75 459.92 1246.25 462.75 1251.25 453.75 C 1256.25 444.75 1257.08 442.92 1260.00 437.50" fill="none" stroke="#8f2566" stroke-width="4.0" stroke-linejoin="round"/>
<path d="M 974.25 771.75 C 982.83 771.17 983.08 771.25 1000.00 770.00 C 1016.92 768.75 1008.33 769.08 1025.00 768.00 C 1041.67 766.92 1035.00 767.75 1050.00 766.75 C 1065.00 765.75 1056.42 766.42 1070.00 765.00 C 1083.58 763.58 1079.08 764.58 1090.75 762.50 C 1102.42 760.42 1095.25 761.67 1105.00 758.75 C 1114.75 755.83 1110.00 757.92 1120.00 753.75 C 1130.00 749.58 1125.00 752.08 1135.00 746.25 C 1145.00 740.42 1140.83 743.33 1150.00 736.25 C 1159.17 729.17 1154.17 733.33 1162.50 725.00 C 1170.83 716.67 1166.67 721.25 1175.00 711.25 C 1183.33 701.25 1179.17 706.25 1187.50 695.00 C 1195.83 683.75 1193.08 687.50 1200.00 677.50 C 1206.92 667.50 1203.25 673.33 1208.25 665.00 C 1213.25 656.67 1210.25 661.67 1215.00 652.50 C 1219.75 643.33 1217.50 650.00 1222.50 637.50 C 1227.50 625.00 1225.42 630.83 1230.00 615.00 C 1234.58 599.17 1232.50 604.17 1236.25 590.00 C 1240.00 575.83 1237.92 582.50 1241.25 572.50 C 1244.58 562.50 1242.50 567.92 1246.25 560.00 C 1250.00 552.08 1247.92 556.92 1252.50 548.75 C 1257.08 540.58 1257.50 539.92 1260.00 535.50" fill="none" stroke="#1f2d5c" stroke-width="4.0" stroke-linejoin="round"/>
<rect x="952.8" y="427" width="357.79999999999995" height="379.29999999999995" stroke="#000" stroke-width="1.7" fill="none"/>
<line x1="952.8" y1="434.5" x2="960.5999999999999" y2="434.5" stroke="#000" stroke-width="1.9"/>
<line x1="952.8" y1="798.8" x2="960.5999999999999" y2="798.8" stroke="#000" stroke-width="1.9"/>
<line x1="1310.6" y1="434.5" x2="1302.8" y2="434.5" stroke="#000" stroke-width="1.9"/>
<line x1="1310.6" y1="616.5" x2="1302.8" y2="616.5" stroke="#000" stroke-width="1.9"/>
<line x1="1310.6" y1="798.8" x2="1302.8" y2="798.8" stroke="#000" stroke-width="1.9"/>
<line x1="972.8837602685136" y1="806.3" x2="972.8837602685136" y2="801.8" stroke="#000" stroke-width="1.4"/>
<line x1="1002.590355671207" y1="806.3" x2="1002.590355671207" y2="801.8" stroke="#000" stroke-width="1.4"/>
<line x1="1023.6675205370273" y1="806.3" x2="1023.6675205370273" y2="801.8" stroke="#000" stroke-width="1.4"/>
<line x1="1040.0162397314864" y1="806.3" x2="1040.0162397314864" y2="801.8" stroke="#000" stroke-width="1.4"/>
<line x1="1053.3741159397207" y1="806.3" x2="1053.3741159397207" y2="801.8" stroke="#000" stroke-width="1.4"/>
<line x1="1064.668039350405" y1="806.3" x2="1064.668039350405" y2="801.8" stroke="#000" stroke-width="1.4"/>
<line x1="1074.4512808055408" y1="806.3" x2="1074.4512808055408" y2="801.8" stroke="#000" stroke-width="1.4"/>
<line x1="1083.0807113424141" y1="806.3" x2="1083.0807113424141" y2="801.8" stroke="#000" stroke-width="1.4"/>
<line x1="1141.5837602685135" y1="806.3" x2="1141.5837602685135" y2="801.8" stroke="#000" stroke-width="1.4"/>
<line x1="1171.290355671207" y1="806.3" x2="1171.290355671207" y2="801.8" stroke="#000" stroke-width="1.4"/>
<line x1="1192.3675205370273" y1="806.3" x2="1192.3675205370273" y2="801.8" stroke="#000" stroke-width="1.4"/>
<line x1="1208.7162397314862" y1="806.3" x2="1208.7162397314862" y2="801.8" stroke="#000" stroke-width="1.4"/>
<line x1="1222.0741159397207" y1="806.3" x2="1222.0741159397207" y2="801.8" stroke="#000" stroke-width="1.4"/>
<line x1="1233.368039350405" y1="806.3" x2="1233.368039350405" y2="801.8" stroke="#000" stroke-width="1.4"/>
<line x1="1243.1512808055409" y1="806.3" x2="1243.1512808055409" y2="801.8" stroke="#000" stroke-width="1.4"/>
<line x1="1251.780711342414" y1="806.3" x2="1251.780711342414" y2="801.8" stroke="#000" stroke-width="1.4"/>
<line x1="1090.8" y1="806.3" x2="1090.8" y2="797.8" stroke="#000" stroke-width="1.9"/>
<line x1="1259.5" y1="806.3" x2="1259.5" y2="797.8" stroke="#000" stroke-width="1.9"/>
<text font-family='"Liberation Serif", serif' font-size="26" textLength="44.43" lengthAdjust="spacingAndGlyphs" x="894.93" y="446">0.50</text>
<text font-family='"Liberation Serif", serif' font-size="26" textLength="44.43" lengthAdjust="spacingAndGlyphs" x="894.93" y="810">0.00</text>
<text font-family='"Liberation Serif", serif' font-size="26" textLength="44.05" lengthAdjust="spacingAndGlyphs" x="1324.44" y="445.7">0.02</text>
<text font-family='"Liberation Serif", serif' font-size="26" textLength="44.18" lengthAdjust="spacingAndGlyphs" x="1324.44" y="627.7">0.01</text>
<text font-family='"Liberation Serif", serif' font-size="26" textLength="43.6" lengthAdjust="spacingAndGlyphs" x="1324.45" y="810">0.00</text>
<text font-family='"Liberation Serif", serif' font-size="25.7" textLength="27.57" lengthAdjust="spacingAndGlyphs" stroke="#000" stroke-width="0.3" x="1064.68" y="833">10</text>
<text font-family='"Liberation Serif", serif' font-size="16.7" textLength="12.48" lengthAdjust="spacingAndGlyphs" stroke="#000" stroke-width="0.3" x="1092.8" y="823.6">−</text>
<text font-family='"Liberation Serif", serif' font-size="16.7" textLength="9.68" lengthAdjust="spacingAndGlyphs" stroke="#000" stroke-width="0.3" x="1105.77" y="823.6">3</text>
<text font-family='"Liberation Serif", serif' font-size="25.7" textLength="27.57" lengthAdjust="spacingAndGlyphs" stroke="#000" stroke-width="0.3" x="1233.18" y="833">10</text>
<text font-family='"Liberation Serif", serif' font-size="16.7" textLength="12.48" lengthAdjust="spacingAndGlyphs" stroke="#000" stroke-width="0.3" x="1261.3" y="823.6">−</text>
<text font-family='"Liberation Serif", serif' font-size="16.7" textLength="9.98" lengthAdjust="spacingAndGlyphs" stroke="#000" stroke-width="0.3" x="1274.32" y="823.6">2</text>
<text font-family='"Liberation Serif", serif' font-size="34.5" font-style="italic" textLength="14.78" lengthAdjust="spacingAndGlyphs" stroke="#000" stroke-width="0.6" x="1127.18" y="853.3">c</text>
<text font-family='"Liberation Serif", serif' font-size="25.5" textLength="217.31" lengthAdjust="spacingAndGlyphs" transform="translate(914,734.01) rotate(-90)">Probability of success</text>
<text font-family='"Liberation Serif", serif' font-size="25.5" textLength="107.29" lengthAdjust="spacingAndGlyphs" transform="translate(1381.2,560.09) rotate(90)">Resolution</text>
<line x1="1061.3" y1="543.6" x2="980.5" y2="543.6" stroke="#000" stroke-width="2.0"/>
<polyline points="990.5,538.2 979.8,543.6 990.5,549" fill="none" stroke="#000" stroke-width="2.0" stroke-linejoin="miter" stroke-linecap="butt"/>
<line x1="1212" y1="704.3" x2="1286.5" y2="704.3" stroke="#000" stroke-width="2.0"/>
<polyline points="1276.5,698.9 1287.2,704.3 1276.5,709.7" fill="none" stroke="#000" stroke-width="2.0" stroke-linejoin="miter" stroke-linecap="butt"/>
<text font-family='"Liberation Serif", serif' font-size="36.5" fill="#6f6a6a" textLength="21.58" lengthAdjust="spacingAndGlyphs" stroke="#6f6a6a" stroke-width="0.3" x="1211.02" y="760.1">Γ</text>
<text font-family='"Liberation Serif", serif' font-size="26" fill="#6f6a6a" textLength="11.16" lengthAdjust="spacingAndGlyphs" x="1232.81" y="752.6">*</text>
<text font-family='"Liberation Serif", serif' font-size="24.7" fill="#6f6a6a" textLength="13.72" lengthAdjust="spacingAndGlyphs" stroke="#6f6a6a" stroke-width="0.3" x="1232.69" y="767.9">2</text>
</svg>
</body></html>
